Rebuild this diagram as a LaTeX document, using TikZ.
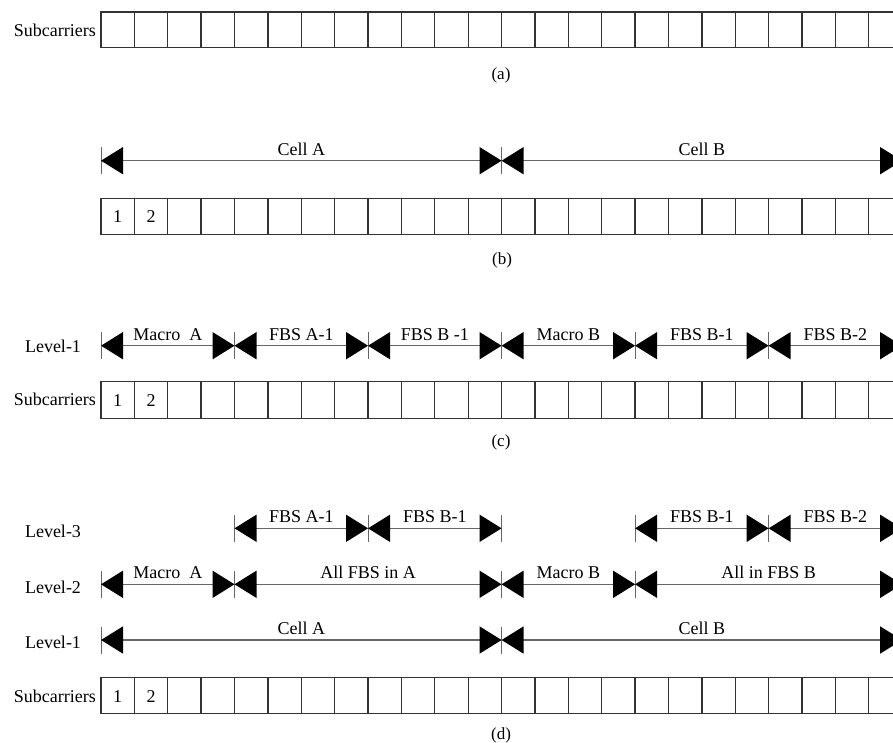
\documentclass[tikz,border=0pt]{standalone}
\usepackage{fontspec}
\setmainfont{Liberation Serif}
\usetikzlibrary{arrows.meta}
\begin{document}
\begin{tikzpicture}[x=1pt,y=-1pt,
  every node/.style={font=\fontsize{18}{20}\selectfont, inner sep=0pt},
  cellbox/.style={draw=black!80, line width=1.3pt},
  dimline/.style={draw=black!60, line width=1.5pt, {Triangle[length=22pt,width=27pt,fill=black,color=black]}-{Triangle[length=22pt,width=27pt,fill=black,color=black]}},
  tickmark/.style={draw=black!60, line width=1pt},
  seglab/.style={anchor=base, yshift=5.5pt},
  rowlab/.style={anchor=base east},
  levlab/.style={anchor=base},
  caplab/.style={font=\fontsize{17}{19}\selectfont},
  numlab/.style={anchor=base}
]
\clip (0,0) rectangle (893,742);
\fill[white] (0,0) rectangle (893,742);

\def\cw{33.38}
\def\xo{101}

% ---------- cell rows ----------
% (a)
\foreach \i in {0,...,23}{
  \draw[cellbox] ({\xo+\i*\cw},12) rectangle ({\xo+(\i+1)*\cw},47.5);
}
\node[rowlab] (subA) at (96,36.2) {Subcarriers};
\node[caplab] (capA) at (501,75.5) {(a)};

% (b)
\foreach \i in {0,...,23}{
  \draw[cellbox] ({\xo+\i*\cw},198.3) rectangle ({\xo+(\i+1)*\cw},234.3);
}
\node[numlab] (b1) at ({\xo+0.5*\cw},222.6) {1};
\node[numlab] (b2) at ({\xo+1.5*\cw},222.6) {2};
\node[caplab] (capB) at (502,260.5) {(b)};

% (c)
\foreach \i in {0,...,23}{
  \draw[cellbox] ({\xo+\i*\cw},381.7) rectangle ({\xo+(\i+1)*\cw},418.3);
}
\node[numlab] (c1) at ({\xo+0.5*\cw},406.3) {1};
\node[numlab] (c2) at ({\xo+1.5*\cw},406.3) {2};
\node[rowlab] (subC) at (96,405.5) {Subcarriers};
\node[caplab] (capC) at (501,442.5) {(c)};

% (d)
\foreach \i in {0,...,23}{
  \draw[cellbox] ({\xo+\i*\cw},677.7) rectangle ({\xo+(\i+1)*\cw},713.3);
}
\node[numlab] (d1) at ({\xo+0.5*\cw},702) {1};
\node[numlab] (d2) at ({\xo+1.5*\cw},702) {2};
\node[rowlab] (subD) at (96,702.3) {Subcarriers};
\node[caplab] (capD) at (501,735) {(d)};

% ---------- boundary coordinates ----------
\foreach \k in {0,12,24}{ \coordinate (b\k) at ({\xo+\k*\cw},160.7); }
\foreach \k in {0,4,8,12,16,20,24}{ \coordinate (c\k) at ({\xo+\k*\cw},345.7); }
\foreach \k in {4,8,12,16,20,24}{ \coordinate (t\k) at ({\xo+\k*\cw},528.3); }
\foreach \k in {0,4,12,16,24}{ \coordinate (m\k) at ({\xo+\k*\cw},584.3); }
\foreach \k in {0,12,24}{ \coordinate (l\k) at ({\xo+\k*\cw},640); }

% ---------- ticks ----------
\foreach \p in {b0,b12,b24,c0,c4,c8,c12,c16,c20,c24,t4,t8,t12,t16,t20,t24,m0,m4,m12,m16,m24,l0,l12,l24}{
  \draw[tickmark] (\p) ++(0,-13.5) -- ++(0,27);
}

% ---------- dimension arrows ----------
% (b)
\draw[dimline] (b0) -- node[seglab] {Cell A} (b12);
\draw[dimline] (b12) -- node[seglab] {Cell B} (b24);

% (c)
\node[levlab] (levC1) at (53,352.7) {Level-1};
\draw[dimline] (c0) -- node[seglab] {Macro~~A} (c4);
\draw[dimline] (c4) -- node[seglab] {FBS A-1} (c8);
\draw[dimline] (c8) -- node[seglab] {FBS B -1} (c12);
\draw[dimline] (c12) -- node[seglab] {Macro B} (c16);
\draw[dimline] (c16) -- node[seglab] {FBS B-1} (c20);
\draw[dimline] (c20) -- node[seglab] {FBS B-2} (c24);

% (d)
\node[levlab] (levD3) at (53,537.5) {Level-3};
\node[levlab] (levD2) at (53,593) {Level-2};
\node[levlab] (levD1) at (53,648.5) {Level-1};
\draw[dimline] (t4) -- node[seglab] {FBS A-1} (t8);
\draw[dimline] (t8) -- node[seglab] {FBS B-1} (t12);
\draw[dimline] (t16) -- node[seglab] {FBS B-1} (t20);
\draw[dimline] (t20) -- node[seglab] {FBS B-2} (t24);

\draw[dimline] (m0) -- node[seglab] {Macro~~A} (m4);
\draw[dimline] (m4) -- node[seglab] {All FBS in A} (m12);
\draw[dimline] (m12) -- node[seglab] {Macro B} (m16);
\draw[dimline] (m16) -- node[seglab] {All in FBS B} (m24);

\draw[dimline] (l0) -- node[seglab] {Cell A} (l12);
\draw[dimline] (l12) -- node[seglab] {Cell B} (l24);
\end{tikzpicture}
\end{document}
